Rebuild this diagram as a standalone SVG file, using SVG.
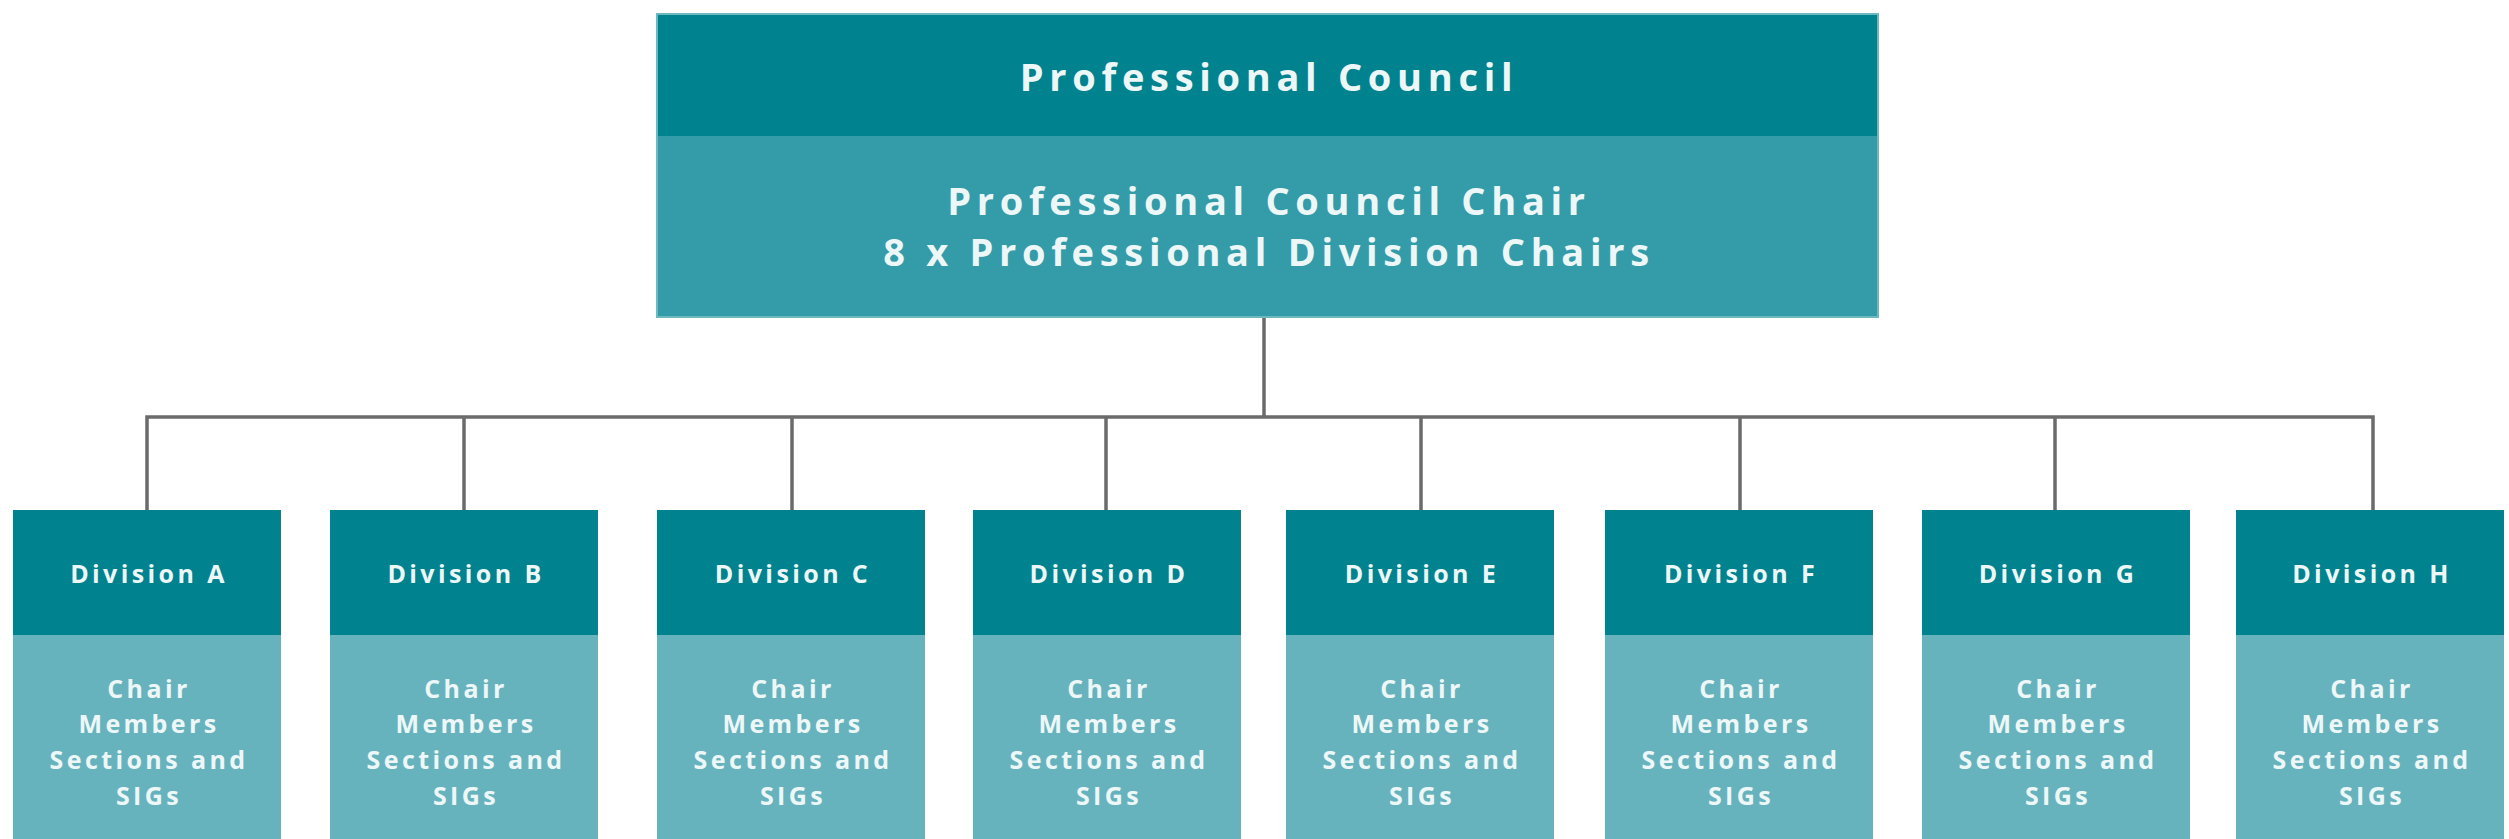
<svg xmlns="http://www.w3.org/2000/svg" width="2509" height="839" viewBox="0 0 2509 839">
<style>
.hd{fill:#00828f}
.tb{fill:#349ca8}
.db{fill:#67b3bd}
.edge{fill:none;stroke:#6cb9c2;stroke-width:2}
.t{font-family:"Open Sans","DejaVu Sans",sans-serif;font-weight:bold;fill:#eef7f8;text-anchor:middle}
.big{font-size:38px;letter-spacing:5.7px}
.sm{font-size:25px;letter-spacing:3.4px}
.ln{fill:none;stroke:#6b6b6b;stroke-width:3.5}
</style>
<rect width="2509" height="839" fill="#ffffff"/>
<g id="connectors">
<path class="ln" d="M1264 317V417M147 510V417H2373V510M464 417V510M792 417V510M1106 417V510M1421 417V510M1740 417V510M2055 417V510"/>
</g>
<g id="council">
<rect class="hd" x="657" y="14" width="1221" height="122"/>
<rect class="tb" x="657" y="136" width="1221" height="181"/>
<rect class="edge" x="657" y="14" width="1221" height="303"/>
<text class="t big" x="1269" y="91">Professional Council</text>
<text class="t big" x="1269" y="215">Professional Council Chair</text>
<text class="t big" x="1269" y="266">8 x Professional Division Chairs</text>
</g>
<g id="divA" transform="translate(149 0)">
<rect class="hd" x="-136" y="510" width="268" height="125"/><rect class="db" x="-136" y="635" width="268" height="210"/>
<text class="t sm" x="0" y="583">Division A</text>
<text class="t sm" x="0" y="698">Chair</text><text class="t sm" x="0" y="733">Members</text><text class="t sm" x="0" y="769">Sections and</text><text class="t sm" x="0" y="805">SIGs</text>
</g>
<g id="divB" transform="translate(466 0)">
<rect class="hd" x="-136" y="510" width="268" height="125"/><rect class="db" x="-136" y="635" width="268" height="210"/>
<text class="t sm" x="0" y="583">Division B</text>
<text class="t sm" x="0" y="698">Chair</text><text class="t sm" x="0" y="733">Members</text><text class="t sm" x="0" y="769">Sections and</text><text class="t sm" x="0" y="805">SIGs</text>
</g>
<g id="divC" transform="translate(793 0)">
<rect class="hd" x="-136" y="510" width="268" height="125"/><rect class="db" x="-136" y="635" width="268" height="210"/>
<text class="t sm" x="0" y="583">Division C</text>
<text class="t sm" x="0" y="698">Chair</text><text class="t sm" x="0" y="733">Members</text><text class="t sm" x="0" y="769">Sections and</text><text class="t sm" x="0" y="805">SIGs</text>
</g>
<g id="divD" transform="translate(1109 0)">
<rect class="hd" x="-136" y="510" width="268" height="125"/><rect class="db" x="-136" y="635" width="268" height="210"/>
<text class="t sm" x="0" y="583">Division D</text>
<text class="t sm" x="0" y="698">Chair</text><text class="t sm" x="0" y="733">Members</text><text class="t sm" x="0" y="769">Sections and</text><text class="t sm" x="0" y="805">SIGs</text>
</g>
<g id="divE" transform="translate(1422 0)">
<rect class="hd" x="-136" y="510" width="268" height="125"/><rect class="db" x="-136" y="635" width="268" height="210"/>
<text class="t sm" x="0" y="583">Division E</text>
<text class="t sm" x="0" y="698">Chair</text><text class="t sm" x="0" y="733">Members</text><text class="t sm" x="0" y="769">Sections and</text><text class="t sm" x="0" y="805">SIGs</text>
</g>
<g id="divF" transform="translate(1741 0)">
<rect class="hd" x="-136" y="510" width="268" height="125"/><rect class="db" x="-136" y="635" width="268" height="210"/>
<text class="t sm" x="0" y="583">Division F</text>
<text class="t sm" x="0" y="698">Chair</text><text class="t sm" x="0" y="733">Members</text><text class="t sm" x="0" y="769">Sections and</text><text class="t sm" x="0" y="805">SIGs</text>
</g>
<g id="divG" transform="translate(2058 0)">
<rect class="hd" x="-136" y="510" width="268" height="125"/><rect class="db" x="-136" y="635" width="268" height="210"/>
<text class="t sm" x="0" y="583">Division G</text>
<text class="t sm" x="0" y="698">Chair</text><text class="t sm" x="0" y="733">Members</text><text class="t sm" x="0" y="769">Sections and</text><text class="t sm" x="0" y="805">SIGs</text>
</g>
<g id="divH" transform="translate(2372 0)">
<rect class="hd" x="-136" y="510" width="268" height="125"/><rect class="db" x="-136" y="635" width="268" height="210"/>
<text class="t sm" x="0" y="583">Division H</text>
<text class="t sm" x="0" y="698">Chair</text><text class="t sm" x="0" y="733">Members</text><text class="t sm" x="0" y="769">Sections and</text><text class="t sm" x="0" y="805">SIGs</text>
</g>
</svg>
